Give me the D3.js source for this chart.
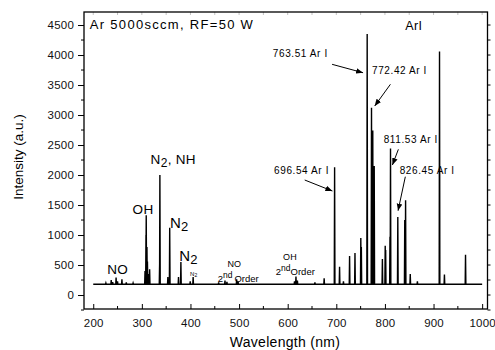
<!DOCTYPE html>
<html>
<head>
<meta charset="utf-8">
<script src="https://cdn.jsdelivr.net/npm/d3@7"></script>
<style>
  body { margin: 0; background: #fff; }
  svg { font-family: "Liberation Sans", Arial, sans-serif; }
</style>
</head>
<body>
<svg width="495" height="350"></svg>
<script>
// emission lines (nm, a.u.)
let peakNm = [
  226, 237, 240, 247, 250, 259, 268, 282,
  306.5, 308.5, 309, 310.5, 311.5, 313, 316,
  336.5, 337.1, 353.5, 357.3, 375.4, 380.3, 399.5, 405.5,
  458, 471, 475, 495, 498,
  614, 617, 620, 656, 675,
  696.5, 706.7, 714.7, 727.3, 738.4, 750.4, 751.5,
  763.5, 772.4, 775, 778, 794.8, 800.6, 801.5,
  810.4, 811.5, 826.5, 840.8, 841.5, 842.5, 852.1, 866.8,
  912.3, 922.4, 965.8
]
let peakInt = [
  200, 250, 215, 290, 230, 260, 210, 200,
  400, 1000, 1330, 800, 560, 350, 430,
  500, 2000, 300, 1120, 300, 550, 230, 300,
  210, 240, 220, 260, 220,
  230, 310, 240, 210, 280,
  2130, 470, 230, 650, 700, 950, 800,
  4350, 3120, 2740, 2150, 600, 820, 750,
  970, 2440, 1300, 1250, 520, 1580, 350, 230,
  4060, 340, 670
]
let baseLevel = 180
let specStart = 200
let specEnd = 1000

let xTicks = [200, 300, 400, 500, 600, 700, 800, 900, 1000]
let yTicks = [0, 500, 1000, 1500, 2000, 2500, 3000, 3500, 4000, 4500]

let width = 495
let height = 350
let padL = 84, padR = 487.5, padT = 12, padB = 309

let svg = d3.select('svg')

let xScale = d3.scaleLinear().domain([181, 1011]).range([padL, padR])
let yScale = d3.scaleLinear().domain([-233, 4717]).range([padB, padT])

// spectrum: flat base with narrow lines on it
let pts = [[specStart, baseLevel]]
let order = d3.range(peakNm.length).sort((a, b) => peakNm[a] - peakNm[b])
order.forEach(i => {
  pts.push([peakNm[i] - 0.7, baseLevel])
  pts.push([peakNm[i], peakInt[i]])
  pts.push([peakNm[i] + 0.7, baseLevel])
})
pts.push([specEnd, baseLevel])

let line = d3.line()
  .x(d => xScale(d[0]))
  .y(d => yScale(d[1]))

svg.append('path')
  .datum(pts)
  .attr('d', line)
  .attr('fill', 'none')
  .attr('stroke', '#000')
  .attr('stroke-width', 1.4)

// axes
let xMinor = d3.range(200, 1001, 50).filter(v => v % 100 != 0)
let yMinor = d3.range(-250, 4701, 250).filter(v => v % 500 != 0)

let xAxis = d3.axisBottom(xScale).tickValues(xTicks).tickSize(-5).tickPadding(10).tickFormat(d3.format('d'))
let gx = svg.append('g').attr('transform', 'translate(0,' + padB + ')').call(xAxis)
gx.append('g').selectAll('line').data(xMinor).enter().append('line')
  .attr('x1', d => xScale(d)).attr('x2', d => xScale(d))
  .attr('y1', 0).attr('y2', -3).attr('stroke', '#000')

let yAxis = d3.axisLeft(yScale).tickValues(yTicks).tickSize(6).tickPadding(4).tickFormat(d3.format('d'))
let gy = svg.append('g').attr('transform', 'translate(' + padL + ',0)').call(yAxis)
gy.append('g').selectAll('line').data(yMinor).enter().append('line')
  .attr('y1', d => yScale(d)).attr('y2', d => yScale(d))
  .attr('x1', 0).attr('x2', -3).attr('stroke', '#000')

// right + top mirror ticks
svg.append('g').selectAll('line').data(yTicks.concat(yMinor)).enter().append('line')
  .attr('y1', d => yScale(d)).attr('y2', d => yScale(d))
  .attr('x1', padR).attr('x2', padR + 3).attr('stroke', '#000')
svg.append('g').selectAll('line').data(xTicks.concat(xMinor)).enter().append('line')
  .attr('x1', d => xScale(d)).attr('x2', d => xScale(d))
  .attr('y1', padT).attr('y2', padT + 3).attr('stroke', '#999').attr('stroke-width', 0.6)

svg.selectAll('.domain').remove()
svg.selectAll('.tick line').attr('stroke', '#000').attr('stroke-width', 1)
svg.selectAll('.tick text')
  .attr('font-size', 11.5)
  .attr('letter-spacing', 0.2)
  .attr('fill', '#111')
  .attr('font-family', '"Liberation Sans", Arial, sans-serif')

svg.append('rect')
  .attr('x', padL).attr('y', padT)
  .attr('width', padR - padL).attr('height', padB - padT)
  .attr('fill', 'none').attr('stroke', '#000').attr('stroke-width', 1.3)

// axis titles
svg.append('text')
  .attr('x', 285).attr('y', 347)
  .attr('text-anchor', 'middle').attr('font-size', 14).attr('letter-spacing', 0.3)
  .text('Wavelength (nm)')
svg.append('text')
  .attr('transform', 'translate(23,157) rotate(-90)')
  .attr('text-anchor', 'middle').attr('font-size', 13.5)
  .text('Intensity (a.u.)')

// arrow head
svg.append('defs').append('marker')
  .attr('id', 'ah').attr('viewBox', '0 0 10 10')
  .attr('refX', 10).attr('refY', 5)
  .attr('markerWidth', 7).attr('markerHeight', 7)
  .attr('markerUnits', 'userSpaceOnUse')
  .attr('orient', 'auto')
  .append('path').attr('d', 'M0,1L10,5L0,9z').attr('fill', '#000')

let label = (x, y, txt, size, ls) => {
  return svg.append('text')
    .attr('x', xScale(x)).attr('y', yScale(y))
    .attr('font-size', size)
    .attr('letter-spacing', ls || 0)
    .text(txt)
}

let arrow = (x1, y1, x2, y2) => {
  svg.append('line')
    .attr('x1', xScale(x1)).attr('y1', yScale(y1))
    .attr('x2', xScale(x2)).attr('y2', yScale(y2))
    .attr('stroke', '#000').attr('stroke-width', 1)
    .attr('marker-end', 'url(#ah)')
}

label(193, 4428, 'Ar 5000sccm, RF=50 W', 13, 1.3)
label(842, 4420, 'ArI', 12.5, 0.3)

label(569.4, 3972, '763.51 Ar I', 10, 0.6)
arrow(691.3, 3845, 755, 3705)
label(773.5, 3683, '772.42 Ar I', 10, 0.6)
arrow(811.3, 3512, 779, 3150)
label(797.5, 2538, '811.53 Ar I', 10, 0.6)
arrow(827.7, 2428, 815.4, 2167)
label(572, 2017, '696.54 Ar I', 10, 0.6)
arrow(635, 1917, 692, 1733)
label(830.4, 2017, '826.45 Ar I', 10, 0.6)
arrow(842, 1972, 827, 1405)

// molecular bands
let sub = (x, y, main, s, size, subSize) => {
  let t = label(x, y, main, size, 0.3)
  t.append('tspan').attr('font-size', subSize).attr('dy', size * 0.2).text(s)
  return t
}
let nnh = sub(318, 2183, 'N', '2', 13.5, 12)
nnh.append('tspan').attr('dy', -13.5 * 0.2).text(', NH')
label(281, 1345, 'OH', 13.5, 0.3)
sub(357.7, 1112, 'N', '2', 15, 13)
sub(376.8, 572, 'N', '2', 15, 13)
label(228.8, 350, 'NO', 13.5, 0.3)
sub(398.8, 317, 'N', '2', 6, 5)

// second order labels: "2" with raised "nd", then "Order"
let secondOrder = (x, y, gap) => {
  let t = label(x, y, '2', 9.5, 0)
  t.append('tspan').attr('font-size', 8.5).attr('dy', -4).text('nd')
  t.append('tspan').attr('font-size', 9.5).attr('dy', 4).attr('dx', gap).text('Order')
}
label(476, 472, 'NO', 9, 0.2)
secondOrder(456, 222, 2)
label(590.5, 583, 'OH', 9, 0.2)
secondOrder(575.5, 333, 0)
</script>
</body>
</html>
